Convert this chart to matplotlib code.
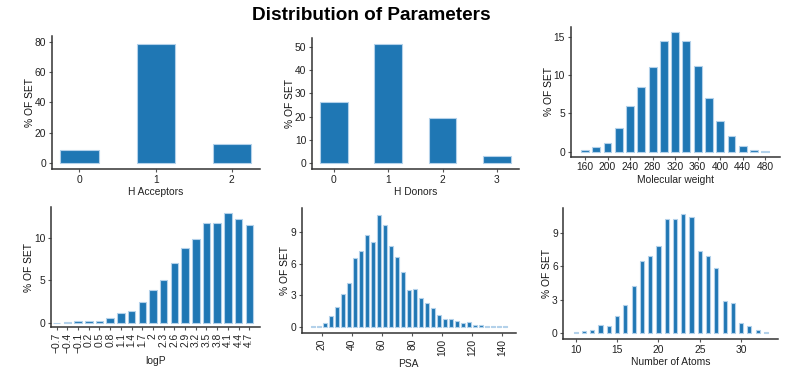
import numpy as np
import matplotlib
matplotlib.use('Agg')
import matplotlib.pyplot as plt

plt.rcParams['font.family'] = ['Liberation Sans', 'DejaVu Sans']
plt.rcParams['font.size'] = 7.2

# --- data ---
hacc_cats = ['0', '1', '2']
hacc_vals = [8.5, 78.7, 12.7]

hdon_cats = ['0', '1', '2', '3']
hdon_vals = [26.4, 51.2, 19.6, 3.3]

mw_bins = [160, 180, 200, 220, 240, 260, 280, 300, 320, 340, 360, 380, 400, 420, 440, 460, 480]
mw_vals = [0.17, 0.6, 1.1, 3.1, 5.9, 8.4, 11.1, 14.5, 15.6, 14.5, 11.2, 7.0, 4.0, 2.0, 0.74, 0.2, 0.05]

logp_cats = ['−0.7', '−0.4', '−0.1', '0.2', '0.5', '0.8', '1.1', '1.4', '1.7', '2',
             '2.3', '2.6', '2.9', '3.2', '3.5', '3.8', '4.1', '4.4', '4.7']
logp_vals = [0.0, 0.04, 0.2, 0.2, 0.2, 0.5, 1.14, 1.41, 2.47, 3.8,
             4.98, 6.98, 8.75, 9.84, 11.73, 11.76, 12.9, 12.24, 11.49]

psa_bins = [14, 18, 22, 26, 30, 34, 38, 42, 46, 50, 54, 58, 62, 66, 70, 74, 78,
            82, 86, 90, 94, 98, 102, 106, 110, 114, 118, 122, 126, 130, 134, 138, 142]
psa_vals = [0.08, 0.08, 0.38, 1.0, 1.9, 3.1, 4.2, 6.56, 7.2, 8.75, 8.05, 10.65, 9.66,
            7.67, 6.65, 5.23, 3.49, 3.58, 2.72, 2.28, 1.77, 1.11, 0.79, 0.73, 0.54,
            0.38, 0.44, 0.22, 0.16, 0.06, 0.06, 0.06, 0.06]

atoms_bins = list(range(10, 34))
atoms_vals = [0.09, 0.24, 0.33, 0.71, 0.65, 1.52, 2.5, 4.2, 6.46, 6.88, 7.77, 10.2,
              10.24, 10.65, 10.39, 7.38, 6.88, 5.86, 2.89, 2.68, 0.95, 0.63, 0.3, 0.09]

bar_color = '#1f77b4'
edge_color = '#b3d1ea'
spine_color = '#333333'

fig = plt.figure(figsize=(8.08, 3.8), dpi=100)
fig.text(0.459, 0.96, 'Distribution of Parameters', ha='center', va='center',
         fontsize=13.7, fontweight='bold')


def style(ax, xlabel):
    for s in ['top', 'right']:
        ax.spines[s].set_visible(False)
    for s in ['left', 'bottom']:
        ax.spines[s].set_color(spine_color)
        ax.spines[s].set_linewidth(1.1)
    ax.tick_params(length=2.5, width=0.8, color='#555555', pad=1.5, labelsize=7.4,
                   labelcolor='#222222')
    ax.set_xlabel(xlabel, labelpad=2, color='#222222', fontsize=7.4)
    ax.set_ylabel('% OF SET', labelpad=0, color='#111111', fontsize=7.4)


# H Acceptors
ax1 = fig.add_axes([0.0644, 0.5553, 0.2574, 0.35])
x = np.arange(len(hacc_cats))
ax1.bar(x, hacc_vals, width=0.5, color=bar_color, edgecolor=edge_color, linewidth=0.8)
ax1.set_xticks(x, hacc_cats)
ax1.set_yticks([0, 20, 40, 60, 80])
ax1.set_xlim(-0.36, 2.37)
ax1.set_ylim(-4, 84)
style(ax1, 'H Acceptors')

# H Donors
ax2 = fig.add_axes([0.3858, 0.5553, 0.2566, 0.3447])
x = np.arange(len(hdon_cats))
ax2.bar(x, hdon_vals, width=0.51, color=bar_color, edgecolor=edge_color, linewidth=0.8)
ax2.set_xticks(x, hdon_cats)
ax2.set_yticks([0, 10, 20, 30, 40, 50])
ax2.set_xlim(-0.41, 3.41)
ax2.set_ylim(-2.4, 53.8)
style(ax2, 'H Donors')

# Molecular weight
ax3 = fig.add_axes([0.7063, 0.5876, 0.259, 0.3421])
ax3.bar(mw_bins, mw_vals, width=14, color=bar_color, edgecolor=edge_color, linewidth=0.8)
ax3.set_xticks(range(160, 481, 40))
ax3.set_yticks([0, 5, 10, 15])
ax3.set_xlim(134.6, 506)
ax3.set_ylim(-0.65, 16.3)
style(ax3, 'Molecular weight')

# logP
ax4 = fig.add_axes([0.0631, 0.1387, 0.2587, 0.3158])
x = np.arange(len(logp_cats))
ax4.bar(x, logp_vals, width=0.7, color=bar_color, edgecolor=edge_color, linewidth=0.8)
ax4.set_xticks(x, logp_cats, rotation=90)
ax4.set_yticks([0, 5, 10])
ax4.set_xlim(-0.53, 19.0)
ax4.set_ylim(-0.55, 13.57)
style(ax4, 'logP')

# PSA
ax5 = fig.add_axes([0.3734, 0.1229, 0.2652, 0.3297])
ax5.bar(psa_bins, psa_vals, width=2.6, color=bar_color, edgecolor=edge_color, linewidth=0.8)
ax5.set_xticks(range(20, 141, 20))
ax5.tick_params(axis='x', labelrotation=90)
ax5.set_yticks([0, 3, 6, 9])
ax5.set_xlim(6.7, 149)
ax5.set_ylim(-0.6, 11.28)
style(ax5, 'PSA')

# Number of Atoms
ax6 = fig.add_axes([0.6972, 0.1079, 0.2657, 0.3447])
ax6.bar(atoms_bins, atoms_vals, width=0.5, color=bar_color, edgecolor=edge_color, linewidth=0.8)
ax6.set_xticks(range(10, 31, 5))
ax6.set_yticks([0, 3, 6, 9])
ax6.set_xlim(8.5, 34.46)
ax6.set_ylim(-0.5, 11.2)
style(ax6, 'Number of Atoms')

fig.savefig('out.png', dpi=100)
